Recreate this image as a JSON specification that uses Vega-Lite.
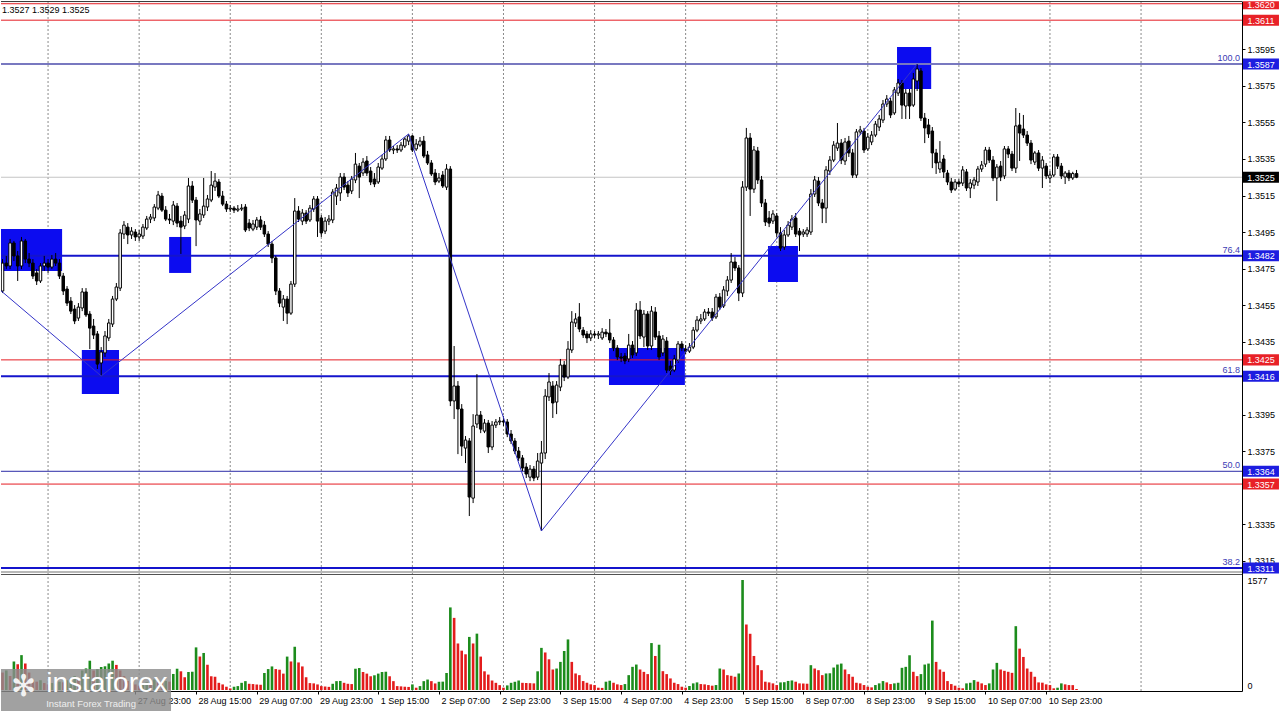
{
"$schema": "https://vega.github.io/schema/vega-lite/v6.json",
"width": 1241,
"height": 690,
"padding": 0,
"background": "#ffffff",
"config": {
 "view": {"stroke": null},
 "scale": {"continuousPadding": 0},
 "axis": {"labelFont": "Liberation Sans", "labelFontSize": 9, "labelColor": "#000000", "domainColor": "#000000", "tickColor": "#000000", "grid": false},
 "text": {"font": "Liberation Sans"}
},
"datasets": {
"bars": [
{"t":-51,"o":1.34627,"h":1.34802,"l":1.34616,"c":1.3478,"v":250,"vc":"r"},
{"t":-50,"o":1.3478,"h":1.34819,"l":1.34747,"c":1.34764,"v":280,"vc":"g"},
{"t":-49,"o":1.34764,"h":1.34912,"l":1.34747,"c":1.3489,"v":200,"vc":"r"},
{"t":-48,"o":1.3489,"h":1.34901,"l":1.34791,"c":1.34819,"v":410,"vc":"g"},
{"t":-47,"o":1.34819,"h":1.34846,"l":1.34682,"c":1.34764,"v":370,"vc":"r"},
{"t":-46,"o":1.34764,"h":1.34923,"l":1.34747,"c":1.34901,"v":500,"vc":"g"},
{"t":-45,"o":1.34901,"h":1.34912,"l":1.3478,"c":1.34802,"v":380,"vc":"r"},
{"t":-44,"o":1.34802,"h":1.34835,"l":1.34758,"c":1.3478,"v":250,"vc":"r"},
{"t":-43,"o":1.3478,"h":1.34802,"l":1.34693,"c":1.34709,"v":150,"vc":"r"},
{"t":-42,"o":1.34726,"h":1.34747,"l":1.3466,"c":1.34682,"v":120,"vc":"r"},
{"t":-41,"o":1.34682,"h":1.3478,"l":1.34671,"c":1.34764,"v":140,"vc":"g"},
{"t":-40,"o":1.34764,"h":1.34819,"l":1.34737,"c":1.3478,"v":100,"vc":"r"},
{"t":-39,"o":1.3478,"h":1.34802,"l":1.34726,"c":1.34758,"v":80,"vc":"r"},
{"t":-38,"o":1.34758,"h":1.34824,"l":1.34747,"c":1.34802,"v":100,"vc":"g"},
{"t":-37,"o":1.34802,"h":1.34835,"l":1.34764,"c":1.3478,"v":90,"vc":"r"},
{"t":-36,"o":1.3478,"h":1.34802,"l":1.34693,"c":1.34709,"v":120,"vc":"g"},
{"t":-35,"o":1.34709,"h":1.34726,"l":1.34605,"c":1.34627,"v":110,"vc":"r"},
{"t":-34,"o":1.34638,"h":1.34654,"l":1.34545,"c":1.34561,"v":140,"vc":"g"},
{"t":-33,"o":1.34572,"h":1.34594,"l":1.34501,"c":1.34517,"v":170,"vc":"g"},
{"t":-32,"o":1.34528,"h":1.3455,"l":1.34446,"c":1.34463,"v":200,"vc":"g"},
{"t":-31,"o":1.34479,"h":1.34561,"l":1.34463,"c":1.34539,"v":150,"vc":"r"},
{"t":-30,"o":1.34534,"h":1.34643,"l":1.34517,"c":1.34622,"v":280,"vc":"g"},
{"t":-29,"o":1.34622,"h":1.34643,"l":1.34485,"c":1.34496,"v":310,"vc":"g"},
{"t":-28,"o":1.34501,"h":1.34517,"l":1.34309,"c":1.34424,"v":420,"vc":"g"},
{"t":-27,"o":1.34435,"h":1.34474,"l":1.34364,"c":1.34386,"v":280,"vc":"r"},
{"t":-26,"o":1.34392,"h":1.34408,"l":1.342,"c":1.34227,"v":300,"vc":"g"},
{"t":-25,"o":1.34233,"h":1.3432,"l":1.34162,"c":1.34293,"v":330,"vc":"g"},
{"t":-24,"o":1.34288,"h":1.34408,"l":1.34266,"c":1.34381,"v":340,"vc":"g"},
{"t":-23,"o":1.3437,"h":1.34474,"l":1.34353,"c":1.34452,"v":380,"vc":"g"},
{"t":-22,"o":1.34446,"h":1.346,"l":1.3443,"c":1.34583,"v":420,"vc":"g"},
{"t":-21,"o":1.34583,"h":1.34671,"l":1.34572,"c":1.34649,"v":360,"vc":"r"},
{"t":-20,"o":1.34643,"h":1.34966,"l":1.34627,"c":1.34945,"v":280,"vc":"r"},
{"t":-19,"o":1.34939,"h":1.3501,"l":1.34912,"c":1.34988,"v":200,"vc":"r"},
{"t":-18,"o":1.34977,"h":1.34999,"l":1.34884,"c":1.34934,"v":130,"vc":"r"},
{"t":-17,"o":1.34934,"h":1.34977,"l":1.34912,"c":1.34955,"v":100,"vc":"r"},
{"t":-16,"o":1.3495,"h":1.34966,"l":1.34901,"c":1.34923,"v":80,"vc":"r"},
{"t":-15,"o":1.34923,"h":1.34961,"l":1.34901,"c":1.34939,"v":60,"vc":"r"},
{"t":-14,"o":1.34928,"h":1.34994,"l":1.34912,"c":1.34977,"v":90,"vc":"g"},
{"t":-13,"o":1.34972,"h":1.35038,"l":1.34961,"c":1.35021,"v":110,"vc":"g"},
{"t":-12,"o":1.35021,"h":1.35049,"l":1.34999,"c":1.35032,"v":100,"vc":"r"},
{"t":-11,"o":1.35027,"h":1.35103,"l":1.3501,"c":1.35087,"v":150,"vc":"g"},
{"t":-10,"o":1.35081,"h":1.35175,"l":1.3507,"c":1.35153,"v":120,"vc":"r"},
{"t":-9,"o":1.35147,"h":1.35164,"l":1.3506,"c":1.3507,"v":110,"vc":"r"},
{"t":-8,"o":1.3507,"h":1.35092,"l":1.3501,"c":1.35021,"v":130,"vc":"g"},
{"t":-7,"o":1.35021,"h":1.35049,"l":1.34994,"c":1.35016,"v":120,"vc":"r"},
{"t":-6,"o":1.3501,"h":1.3512,"l":1.34988,"c":1.35098,"v":230,"vc":"g"},
{"t":-5,"o":1.35092,"h":1.35109,"l":1.34977,"c":1.34999,"v":305,"vc":"g"},
{"t":-4,"o":1.3501,"h":1.35038,"l":1.3483,"c":1.34977,"v":268,"vc":"r"},
{"t":-3,"o":1.34983,"h":1.35065,"l":1.34966,"c":1.35043,"v":183,"vc":"r"},
{"t":-2,"o":1.35021,"h":1.35246,"l":1.34999,"c":1.35202,"v":258,"vc":"g"},
{"t":-1,"o":1.35202,"h":1.35229,"l":1.35109,"c":1.35125,"v":262,"vc":"g"},
{"t":0,"o":1.35125,"h":1.35142,"l":1.34873,"c":1.35016,"v":611,"vc":"g"},
{"t":1,"o":1.3501,"h":1.35076,"l":1.34988,"c":1.35049,"v":480,"vc":"r"},
{"t":2,"o":1.35043,"h":1.35246,"l":1.35027,"c":1.35092,"v":531,"vc":"g"},
{"t":3,"o":1.35087,"h":1.35153,"l":1.35065,"c":1.35131,"v":362,"vc":"r"},
{"t":4,"o":1.35125,"h":1.35284,"l":1.35114,"c":1.35207,"v":197,"vc":"r"},
{"t":5,"o":1.35196,"h":1.35273,"l":1.35175,"c":1.35229,"v":190,"vc":"r"},
{"t":6,"o":1.35224,"h":1.3524,"l":1.35136,"c":1.35147,"v":103,"vc":"r"},
{"t":7,"o":1.35147,"h":1.35175,"l":1.35092,"c":1.35103,"v":80,"vc":"r"},
{"t":8,"o":1.35103,"h":1.3512,"l":1.3506,"c":1.35076,"v":47,"vc":"r"},
{"t":9,"o":1.35076,"h":1.35098,"l":1.3506,"c":1.35081,"v":23,"vc":"r"},
{"t":10,"o":1.35081,"h":1.35092,"l":1.35054,"c":1.3507,"v":47,"vc":"g"},
{"t":11,"o":1.3507,"h":1.35098,"l":1.3506,"c":1.35076,"v":56,"vc":"g"},
{"t":12,"o":1.35076,"h":1.35103,"l":1.35065,"c":1.35081,"v":103,"vc":"g"},
{"t":13,"o":1.35087,"h":1.35103,"l":1.3495,"c":1.34961,"v":127,"vc":"g"},
{"t":14,"o":1.34999,"h":1.35021,"l":1.34955,"c":1.34972,"v":89,"vc":"r"},
{"t":15,"o":1.34966,"h":1.35016,"l":1.34955,"c":1.34994,"v":85,"vc":"r"},
{"t":16,"o":1.34977,"h":1.35032,"l":1.34961,"c":1.35016,"v":80,"vc":"r"},
{"t":17,"o":1.35016,"h":1.35038,"l":1.34961,"c":1.34977,"v":75,"vc":"r"},
{"t":18,"o":1.34988,"h":1.3501,"l":1.34923,"c":1.34939,"v":244,"vc":"g"},
{"t":19,"o":1.34939,"h":1.34955,"l":1.34868,"c":1.34884,"v":300,"vc":"g"},
{"t":20,"o":1.34884,"h":1.34901,"l":1.3478,"c":1.34808,"v":338,"vc":"g"},
{"t":21,"o":1.34808,"h":1.34819,"l":1.34605,"c":1.34627,"v":300,"vc":"r"},
{"t":22,"o":1.34627,"h":1.34643,"l":1.34539,"c":1.34561,"v":291,"vc":"r"},
{"t":23,"o":1.34539,"h":1.34605,"l":1.34463,"c":1.34583,"v":235,"vc":"r"},
{"t":24,"o":1.34583,"h":1.346,"l":1.34446,"c":1.34506,"v":479,"vc":"g"},
{"t":25,"o":1.34506,"h":1.34682,"l":1.34496,"c":1.34665,"v":409,"vc":"r"},
{"t":26,"o":1.34665,"h":1.35136,"l":1.34649,"c":1.35065,"v":620,"vc":"g"},
{"t":27,"o":1.35065,"h":1.35092,"l":1.35005,"c":1.35021,"v":395,"vc":"r"},
{"t":28,"o":1.3501,"h":1.35076,"l":1.34988,"c":1.35054,"v":338,"vc":"r"},
{"t":29,"o":1.35054,"h":1.3507,"l":1.34994,"c":1.3501,"v":183,"vc":"r"},
{"t":30,"o":1.35016,"h":1.35098,"l":1.35005,"c":1.35081,"v":99,"vc":"r"},
{"t":31,"o":1.35076,"h":1.35147,"l":1.3506,"c":1.35131,"v":95,"vc":"r"},
{"t":32,"o":1.35131,"h":1.35147,"l":1.34923,"c":1.3501,"v":80,"vc":"r"},
{"t":33,"o":1.35027,"h":1.35043,"l":1.34923,"c":1.34945,"v":56,"vc":"r"},
{"t":34,"o":1.34955,"h":1.35032,"l":1.34939,"c":1.3501,"v":50,"vc":"r"},
{"t":35,"o":1.3501,"h":1.35043,"l":1.34988,"c":1.35021,"v":45,"vc":"r"},
{"t":36,"o":1.35016,"h":1.35185,"l":1.34999,"c":1.35169,"v":89,"vc":"g"},
{"t":37,"o":1.35147,"h":1.35213,"l":1.35098,"c":1.35191,"v":127,"vc":"g"},
{"t":38,"o":1.35164,"h":1.35273,"l":1.3512,"c":1.35251,"v":130,"vc":"g"},
{"t":39,"o":1.35251,"h":1.35273,"l":1.3518,"c":1.35196,"v":103,"vc":"r"},
{"t":40,"o":1.35207,"h":1.35229,"l":1.35142,"c":1.35164,"v":89,"vc":"r"},
{"t":41,"o":1.35175,"h":1.35257,"l":1.35158,"c":1.3524,"v":85,"vc":"r"},
{"t":42,"o":1.35235,"h":1.35383,"l":1.35218,"c":1.35322,"v":305,"vc":"g"},
{"t":43,"o":1.35311,"h":1.35328,"l":1.35136,"c":1.35251,"v":315,"vc":"g"},
{"t":44,"o":1.35273,"h":1.35355,"l":1.35257,"c":1.35333,"v":258,"vc":"r"},
{"t":45,"o":1.35339,"h":1.35366,"l":1.35257,"c":1.35273,"v":235,"vc":"r"},
{"t":46,"o":1.35284,"h":1.35306,"l":1.35207,"c":1.35224,"v":197,"vc":"r"},
{"t":47,"o":1.3524,"h":1.35273,"l":1.35196,"c":1.35213,"v":211,"vc":"g"},
{"t":48,"o":1.35224,"h":1.35328,"l":1.35213,"c":1.35306,"v":235,"vc":"g"},
{"t":49,"o":1.353,"h":1.35372,"l":1.3529,"c":1.3535,"v":258,"vc":"g"},
{"t":50,"o":1.3535,"h":1.35476,"l":1.35339,"c":1.35454,"v":262,"vc":"g"},
{"t":51,"o":1.35454,"h":1.35476,"l":1.35388,"c":1.35399,"v":197,"vc":"r"},
{"t":52,"o":1.35399,"h":1.35421,"l":1.35377,"c":1.35405,"v":127,"vc":"r"},
{"t":53,"o":1.35405,"h":1.35426,"l":1.35383,"c":1.35399,"v":56,"vc":"r"},
{"t":54,"o":1.35399,"h":1.35443,"l":1.35388,"c":1.35426,"v":52,"vc":"r"},
{"t":55,"o":1.35421,"h":1.3547,"l":1.3541,"c":1.35459,"v":47,"vc":"r"},
{"t":56,"o":1.35448,"h":1.35487,"l":1.35426,"c":1.35476,"v":44,"vc":"r"},
{"t":57,"o":1.35476,"h":1.35481,"l":1.35388,"c":1.35399,"v":80,"vc":"g"},
{"t":58,"o":1.35405,"h":1.35459,"l":1.35394,"c":1.35432,"v":33,"vc":"r"},
{"t":59,"o":1.35426,"h":1.3547,"l":1.35416,"c":1.35448,"v":56,"vc":"g"},
{"t":60,"o":1.35448,"h":1.35476,"l":1.35355,"c":1.35366,"v":127,"vc":"g"},
{"t":61,"o":1.35372,"h":1.35394,"l":1.35317,"c":1.35328,"v":150,"vc":"g"},
{"t":62,"o":1.35328,"h":1.35344,"l":1.35257,"c":1.35268,"v":127,"vc":"r"},
{"t":63,"o":1.35273,"h":1.35295,"l":1.35207,"c":1.35224,"v":94,"vc":"r"},
{"t":64,"o":1.35229,"h":1.35273,"l":1.35218,"c":1.35246,"v":118,"vc":"g"},
{"t":65,"o":1.35262,"h":1.35284,"l":1.35191,"c":1.35202,"v":120,"vc":"g"},
{"t":66,"o":1.35196,"h":1.35322,"l":1.3518,"c":1.35295,"v":244,"vc":"g"},
{"t":67,"o":1.35295,"h":1.35311,"l":1.33997,"c":1.34025,"v":1184,"vc":"g"},
{"t":68,"o":1.34025,"h":1.34326,"l":1.33926,"c":1.34107,"v":1034,"vc":"r"},
{"t":69,"o":1.34107,"h":1.34134,"l":1.33734,"c":1.33981,"v":667,"vc":"r"},
{"t":70,"o":1.33981,"h":1.34008,"l":1.33724,"c":1.33778,"v":564,"vc":"r"},
{"t":71,"o":1.33767,"h":1.33833,"l":1.33685,"c":1.33811,"v":512,"vc":"r"},
{"t":72,"o":1.33806,"h":1.33822,"l":1.33395,"c":1.33499,"v":761,"vc":"g"},
{"t":73,"o":1.33493,"h":1.33953,"l":1.33466,"c":1.33888,"v":667,"vc":"r"},
{"t":74,"o":1.33899,"h":1.34172,"l":1.33877,"c":1.33948,"v":808,"vc":"g"},
{"t":75,"o":1.33948,"h":1.3397,"l":1.33849,"c":1.33871,"v":479,"vc":"r"},
{"t":76,"o":1.3386,"h":1.33926,"l":1.33849,"c":1.33904,"v":268,"vc":"r"},
{"t":77,"o":1.33904,"h":1.33921,"l":1.3374,"c":1.33773,"v":221,"vc":"r"},
{"t":78,"o":1.33773,"h":1.33915,"l":1.33756,"c":1.33893,"v":136,"vc":"r"},
{"t":79,"o":1.33893,"h":1.33926,"l":1.33877,"c":1.3391,"v":103,"vc":"r"},
{"t":80,"o":1.3391,"h":1.33937,"l":1.33893,"c":1.33915,"v":70,"vc":"r"},
{"t":81,"o":1.33915,"h":1.33942,"l":1.33888,"c":1.3391,"v":33,"vc":"r"},
{"t":82,"o":1.3391,"h":1.33926,"l":1.33827,"c":1.33844,"v":66,"vc":"g"},
{"t":83,"o":1.33844,"h":1.33866,"l":1.33789,"c":1.33806,"v":103,"vc":"g"},
{"t":84,"o":1.33806,"h":1.33822,"l":1.33734,"c":1.33751,"v":118,"vc":"g"},
{"t":85,"o":1.33751,"h":1.33773,"l":1.33696,"c":1.33713,"v":136,"vc":"g"},
{"t":86,"o":1.33713,"h":1.33729,"l":1.33641,"c":1.33658,"v":103,"vc":"r"},
{"t":87,"o":1.33663,"h":1.33685,"l":1.33603,"c":1.33625,"v":100,"vc":"r"},
{"t":88,"o":1.33608,"h":1.33674,"l":1.33586,"c":1.33652,"v":98,"vc":"r"},
{"t":89,"o":1.33652,"h":1.33669,"l":1.33586,"c":1.33603,"v":95,"vc":"r"},
{"t":90,"o":1.33608,"h":1.3374,"l":1.33592,"c":1.33696,"v":268,"vc":"g"},
{"t":91,"o":1.33685,"h":1.33806,"l":1.33313,"c":1.3374,"v":604,"vc":"g"},
{"t":92,"o":1.3374,"h":1.3409,"l":1.33707,"c":1.34052,"v":538,"vc":"r"},
{"t":93,"o":1.34047,"h":1.34178,"l":1.34025,"c":1.34129,"v":440,"vc":"r"},
{"t":94,"o":1.34107,"h":1.34134,"l":1.33932,"c":1.34014,"v":294,"vc":"r"},
{"t":95,"o":1.34019,"h":1.34134,"l":1.33953,"c":1.34112,"v":308,"vc":"g"},
{"t":96,"o":1.34101,"h":1.34255,"l":1.34079,"c":1.34222,"v":403,"vc":"g"},
{"t":97,"o":1.34222,"h":1.34244,"l":1.34134,"c":1.34156,"v":559,"vc":"g"},
{"t":98,"o":1.34156,"h":1.34353,"l":1.34145,"c":1.34309,"v":725,"vc":"g"},
{"t":99,"o":1.34304,"h":1.34517,"l":1.34288,"c":1.34457,"v":403,"vc":"r"},
{"t":100,"o":1.34452,"h":1.34506,"l":1.3443,"c":1.34474,"v":237,"vc":"r"},
{"t":101,"o":1.34485,"h":1.34561,"l":1.34402,"c":1.34419,"v":213,"vc":"r"},
{"t":102,"o":1.34413,"h":1.3443,"l":1.3437,"c":1.34386,"v":128,"vc":"r"},
{"t":103,"o":1.34392,"h":1.34408,"l":1.34342,"c":1.3437,"v":104,"vc":"r"},
{"t":104,"o":1.3437,"h":1.34413,"l":1.34353,"c":1.34392,"v":81,"vc":"r"},
{"t":105,"o":1.34392,"h":1.34408,"l":1.3437,"c":1.34386,"v":71,"vc":"r"},
{"t":106,"o":1.34386,"h":1.34408,"l":1.34364,"c":1.34392,"v":33,"vc":"r"},
{"t":107,"o":1.3437,"h":1.34424,"l":1.34359,"c":1.34402,"v":30,"vc":"r"},
{"t":108,"o":1.34402,"h":1.34419,"l":1.34375,"c":1.34392,"v":119,"vc":"g"},
{"t":109,"o":1.34397,"h":1.34474,"l":1.34342,"c":1.34359,"v":133,"vc":"g"},
{"t":110,"o":1.34359,"h":1.34375,"l":1.34298,"c":1.34315,"v":104,"vc":"r"},
{"t":111,"o":1.34315,"h":1.34331,"l":1.34249,"c":1.34266,"v":81,"vc":"r"},
{"t":112,"o":1.34266,"h":1.34288,"l":1.34238,"c":1.3426,"v":71,"vc":"r"},
{"t":113,"o":1.34271,"h":1.34288,"l":1.34227,"c":1.34244,"v":85,"vc":"g"},
{"t":114,"o":1.34255,"h":1.34392,"l":1.34238,"c":1.34331,"v":213,"vc":"g"},
{"t":115,"o":1.34331,"h":1.34353,"l":1.3426,"c":1.34277,"v":332,"vc":"g"},
{"t":116,"o":1.34288,"h":1.34561,"l":1.34271,"c":1.34523,"v":365,"vc":"g"},
{"t":117,"o":1.34523,"h":1.34572,"l":1.34364,"c":1.34381,"v":294,"vc":"r"},
{"t":118,"o":1.34375,"h":1.34523,"l":1.3432,"c":1.34501,"v":260,"vc":"r"},
{"t":119,"o":1.34501,"h":1.34517,"l":1.34304,"c":1.34326,"v":228,"vc":"r"},
{"t":120,"o":1.34326,"h":1.34545,"l":1.34304,"c":1.34517,"v":673,"vc":"g"},
{"t":121,"o":1.34512,"h":1.34539,"l":1.34359,"c":1.34375,"v":488,"vc":"r"},
{"t":122,"o":1.34381,"h":1.34408,"l":1.34249,"c":1.34266,"v":649,"vc":"g"},
{"t":123,"o":1.34288,"h":1.34386,"l":1.34271,"c":1.34364,"v":270,"vc":"r"},
{"t":124,"o":1.34353,"h":1.34375,"l":1.34178,"c":1.34194,"v":228,"vc":"r"},
{"t":125,"o":1.34216,"h":1.34244,"l":1.34167,"c":1.34189,"v":166,"vc":"r"},
{"t":126,"o":1.34194,"h":1.34277,"l":1.34183,"c":1.34255,"v":104,"vc":"r"},
{"t":127,"o":1.34249,"h":1.34353,"l":1.34233,"c":1.34337,"v":85,"vc":"r"},
{"t":128,"o":1.34337,"h":1.34353,"l":1.34298,"c":1.34315,"v":47,"vc":"r"},
{"t":129,"o":1.34309,"h":1.34331,"l":1.34282,"c":1.34298,"v":33,"vc":"r"},
{"t":130,"o":1.34298,"h":1.34342,"l":1.34288,"c":1.3432,"v":57,"vc":"g"},
{"t":131,"o":1.3432,"h":1.3443,"l":1.34309,"c":1.34413,"v":95,"vc":"g"},
{"t":132,"o":1.34413,"h":1.3449,"l":1.34402,"c":1.34468,"v":109,"vc":"g"},
{"t":133,"o":1.34463,"h":1.34501,"l":1.34446,"c":1.34474,"v":85,"vc":"r"},
{"t":134,"o":1.34474,"h":1.34528,"l":1.34463,"c":1.34512,"v":81,"vc":"r"},
{"t":135,"o":1.34512,"h":1.34534,"l":1.3449,"c":1.34506,"v":71,"vc":"r"},
{"t":136,"o":1.34512,"h":1.34534,"l":1.34463,"c":1.34479,"v":62,"vc":"r"},
{"t":137,"o":1.34485,"h":1.34611,"l":1.34474,"c":1.34594,"v":71,"vc":"g"},
{"t":138,"o":1.34594,"h":1.34616,"l":1.34523,"c":1.34539,"v":308,"vc":"g"},
{"t":139,"o":1.34545,"h":1.34654,"l":1.34534,"c":1.34633,"v":294,"vc":"r"},
{"t":140,"o":1.34627,"h":1.34709,"l":1.346,"c":1.34687,"v":213,"vc":"r"},
{"t":141,"o":1.34687,"h":1.34835,"l":1.34671,"c":1.34786,"v":204,"vc":"r"},
{"t":142,"o":1.34786,"h":1.34813,"l":1.34737,"c":1.34753,"v":190,"vc":"r"},
{"t":143,"o":1.34753,"h":1.34769,"l":1.34572,"c":1.34616,"v":237,"vc":"g"},
{"t":144,"o":1.34616,"h":1.35229,"l":1.34594,"c":1.35196,"v":1577,"vc":"g"},
{"t":145,"o":1.35196,"h":1.3552,"l":1.35175,"c":1.35465,"v":939,"vc":"r"},
{"t":146,"o":1.35465,"h":1.35492,"l":1.35038,"c":1.35185,"v":806,"vc":"r"},
{"t":147,"o":1.35185,"h":1.35421,"l":1.35164,"c":1.35399,"v":488,"vc":"r"},
{"t":148,"o":1.35394,"h":1.35416,"l":1.35213,"c":1.35235,"v":356,"vc":"r"},
{"t":149,"o":1.35235,"h":1.35257,"l":1.35087,"c":1.35109,"v":284,"vc":"r"},
{"t":150,"o":1.35109,"h":1.35131,"l":1.34983,"c":1.35005,"v":119,"vc":"r"},
{"t":151,"o":1.35027,"h":1.35065,"l":1.34977,"c":1.34999,"v":109,"vc":"r"},
{"t":152,"o":1.3501,"h":1.3507,"l":1.34994,"c":1.35049,"v":95,"vc":"r"},
{"t":153,"o":1.35038,"h":1.35054,"l":1.34923,"c":1.34945,"v":71,"vc":"r"},
{"t":154,"o":1.34945,"h":1.34977,"l":1.34846,"c":1.34862,"v":109,"vc":"g"},
{"t":155,"o":1.34868,"h":1.34961,"l":1.34852,"c":1.34934,"v":112,"vc":"g"},
{"t":156,"o":1.34934,"h":1.3501,"l":1.34923,"c":1.34988,"v":130,"vc":"g"},
{"t":157,"o":1.34977,"h":1.35043,"l":1.34961,"c":1.35021,"v":137,"vc":"g"},
{"t":158,"o":1.35027,"h":1.35054,"l":1.34923,"c":1.34939,"v":119,"vc":"r"},
{"t":159,"o":1.34955,"h":1.34972,"l":1.34846,"c":1.34934,"v":95,"vc":"r"},
{"t":160,"o":1.34939,"h":1.34966,"l":1.34923,"c":1.3495,"v":93,"vc":"r"},
{"t":161,"o":1.34939,"h":1.34977,"l":1.34923,"c":1.34961,"v":90,"vc":"r"},
{"t":162,"o":1.3495,"h":1.35185,"l":1.34934,"c":1.35158,"v":356,"vc":"g"},
{"t":163,"o":1.35158,"h":1.35257,"l":1.35142,"c":1.35235,"v":308,"vc":"r"},
{"t":164,"o":1.35229,"h":1.35251,"l":1.35092,"c":1.35109,"v":284,"vc":"r"},
{"t":165,"o":1.35109,"h":1.35131,"l":1.34999,"c":1.35081,"v":213,"vc":"r"},
{"t":166,"o":1.35081,"h":1.35311,"l":1.34999,"c":1.3529,"v":237,"vc":"g"},
{"t":167,"o":1.35284,"h":1.35366,"l":1.35262,"c":1.35344,"v":240,"vc":"g"},
{"t":168,"o":1.35344,"h":1.35448,"l":1.35333,"c":1.35426,"v":322,"vc":"g"},
{"t":169,"o":1.3541,"h":1.35547,"l":1.35394,"c":1.35437,"v":365,"vc":"g"},
{"t":170,"o":1.35437,"h":1.35459,"l":1.35322,"c":1.35344,"v":379,"vc":"g"},
{"t":171,"o":1.35339,"h":1.35465,"l":1.35317,"c":1.35443,"v":294,"vc":"r"},
{"t":172,"o":1.35448,"h":1.35476,"l":1.35361,"c":1.35383,"v":228,"vc":"r"},
{"t":173,"o":1.35383,"h":1.35405,"l":1.35246,"c":1.35262,"v":190,"vc":"r"},
{"t":174,"o":1.35262,"h":1.35514,"l":1.35246,"c":1.35498,"v":104,"vc":"r"},
{"t":175,"o":1.35498,"h":1.35531,"l":1.35481,"c":1.35509,"v":95,"vc":"r"},
{"t":176,"o":1.35503,"h":1.3552,"l":1.35383,"c":1.35399,"v":71,"vc":"r"},
{"t":177,"o":1.35405,"h":1.35492,"l":1.35394,"c":1.3547,"v":47,"vc":"r"},
{"t":178,"o":1.35443,"h":1.35503,"l":1.35426,"c":1.35481,"v":38,"vc":"r"},
{"t":179,"o":1.35481,"h":1.35558,"l":1.3547,"c":1.35541,"v":71,"vc":"g"},
{"t":180,"o":1.35525,"h":1.35591,"l":1.35503,"c":1.35569,"v":95,"vc":"g"},
{"t":181,"o":1.35563,"h":1.35673,"l":1.35547,"c":1.35651,"v":128,"vc":"g"},
{"t":182,"o":1.35651,"h":1.357,"l":1.35635,"c":1.35678,"v":109,"vc":"r"},
{"t":183,"o":1.35667,"h":1.35684,"l":1.35574,"c":1.35591,"v":85,"vc":"r"},
{"t":184,"o":1.35602,"h":1.35744,"l":1.35591,"c":1.35728,"v":95,"vc":"g"},
{"t":185,"o":1.35711,"h":1.35788,"l":1.35695,"c":1.35766,"v":104,"vc":"g"},
{"t":186,"o":1.35766,"h":1.35782,"l":1.35569,"c":1.35645,"v":318,"vc":"g"},
{"t":187,"o":1.3564,"h":1.35733,"l":1.35569,"c":1.35711,"v":332,"vc":"g"},
{"t":188,"o":1.35711,"h":1.35733,"l":1.35569,"c":1.3564,"v":498,"vc":"g"},
{"t":189,"o":1.35645,"h":1.35821,"l":1.35635,"c":1.35788,"v":261,"vc":"r"},
{"t":190,"o":1.35777,"h":1.3587,"l":1.35722,"c":1.35843,"v":199,"vc":"r"},
{"t":191,"o":1.35832,"h":1.35848,"l":1.35558,"c":1.35574,"v":228,"vc":"g"},
{"t":192,"o":1.35574,"h":1.35602,"l":1.35437,"c":1.3552,"v":365,"vc":"g"},
{"t":193,"o":1.35536,"h":1.35569,"l":1.35465,"c":1.35487,"v":379,"vc":"g"},
{"t":194,"o":1.35503,"h":1.35525,"l":1.353,"c":1.35383,"v":995,"vc":"g"},
{"t":195,"o":1.35383,"h":1.35405,"l":1.35268,"c":1.35328,"v":403,"vc":"r"},
{"t":196,"o":1.35295,"h":1.35448,"l":1.35273,"c":1.35333,"v":294,"vc":"r"},
{"t":197,"o":1.3535,"h":1.35372,"l":1.35246,"c":1.35279,"v":261,"vc":"r"},
{"t":198,"o":1.35273,"h":1.3529,"l":1.35207,"c":1.35224,"v":128,"vc":"r"},
{"t":199,"o":1.35224,"h":1.35246,"l":1.35164,"c":1.3518,"v":85,"vc":"r"},
{"t":200,"o":1.35185,"h":1.3524,"l":1.35175,"c":1.35224,"v":62,"vc":"r"},
{"t":201,"o":1.35224,"h":1.3524,"l":1.35196,"c":1.35213,"v":33,"vc":"r"},
{"t":202,"o":1.35218,"h":1.35311,"l":1.35202,"c":1.3529,"v":24,"vc":"r"},
{"t":203,"o":1.35279,"h":1.35295,"l":1.35175,"c":1.35191,"v":95,"vc":"g"},
{"t":204,"o":1.35191,"h":1.3524,"l":1.35136,"c":1.35218,"v":104,"vc":"g"},
{"t":205,"o":1.35207,"h":1.35251,"l":1.35185,"c":1.35235,"v":142,"vc":"g"},
{"t":206,"o":1.35224,"h":1.35311,"l":1.35202,"c":1.35295,"v":119,"vc":"r"},
{"t":207,"o":1.35295,"h":1.35339,"l":1.35279,"c":1.35317,"v":95,"vc":"r"},
{"t":208,"o":1.35322,"h":1.35416,"l":1.35306,"c":1.35399,"v":71,"vc":"r"},
{"t":209,"o":1.35399,"h":1.35416,"l":1.35328,"c":1.35344,"v":95,"vc":"g"},
{"t":210,"o":1.35344,"h":1.35366,"l":1.35229,"c":1.35246,"v":294,"vc":"g"},
{"t":211,"o":1.35246,"h":1.35322,"l":1.3512,"c":1.35306,"v":389,"vc":"g"},
{"t":212,"o":1.35311,"h":1.35339,"l":1.35229,"c":1.35251,"v":294,"vc":"r"},
{"t":213,"o":1.35257,"h":1.35421,"l":1.3524,"c":1.35405,"v":275,"vc":"r"},
{"t":214,"o":1.35405,"h":1.35421,"l":1.35355,"c":1.35377,"v":261,"vc":"r"},
{"t":215,"o":1.35377,"h":1.35394,"l":1.35284,"c":1.353,"v":246,"vc":"r"},
{"t":216,"o":1.353,"h":1.35629,"l":1.35273,"c":1.35531,"v":915,"vc":"g"},
{"t":217,"o":1.35536,"h":1.35602,"l":1.35339,"c":1.35492,"v":593,"vc":"r"},
{"t":218,"o":1.35514,"h":1.35591,"l":1.35465,"c":1.35481,"v":474,"vc":"r"},
{"t":219,"o":1.35481,"h":1.35503,"l":1.35421,"c":1.35437,"v":308,"vc":"r"},
{"t":220,"o":1.35437,"h":1.35454,"l":1.35322,"c":1.35344,"v":261,"vc":"r"},
{"t":221,"o":1.35333,"h":1.35394,"l":1.35317,"c":1.35383,"v":190,"vc":"r"},
{"t":222,"o":1.35383,"h":1.35399,"l":1.35284,"c":1.353,"v":109,"vc":"r"},
{"t":223,"o":1.353,"h":1.35366,"l":1.35191,"c":1.35344,"v":105,"vc":"r"},
{"t":224,"o":1.35311,"h":1.35328,"l":1.3524,"c":1.35257,"v":81,"vc":"r"},
{"t":225,"o":1.35246,"h":1.35284,"l":1.35218,"c":1.35262,"v":71,"vc":"r"},
{"t":226,"o":1.35262,"h":1.35377,"l":1.35251,"c":1.35361,"v":24,"vc":"r"},
{"t":227,"o":1.35361,"h":1.35377,"l":1.35295,"c":1.35311,"v":33,"vc":"g"},
{"t":228,"o":1.35311,"h":1.35328,"l":1.3524,"c":1.35257,"v":95,"vc":"g"},
{"t":229,"o":1.35251,"h":1.35284,"l":1.35213,"c":1.35273,"v":81,"vc":"r"},
{"t":230,"o":1.35273,"h":1.3529,"l":1.35229,"c":1.35246,"v":71,"vc":"r"},
{"t":231,"o":1.35246,"h":1.3528,"l":1.35235,"c":1.3527,"v":70,"vc":"r"},
{"t":232,"o":1.3527,"h":1.3529,"l":1.35245,"c":1.3525,"v":14,"vc":"r"}
],
"grid": [{"t":-39},{"t":-15},{"t":9},{"t":33},{"t":57},{"t":81},{"t":105},{"t":129},{"t":153},{"t":177},{"t":201},{"t":225},{"t":249}],
"levels": [
{"p":1.362,"k":"r"},{"p":1.3611,"k":"r"},{"p":1.3587,"k":"f100"},{"p":1.3525,"k":"cur"},{"p":1.3482,"k":"f"},
{"p":1.3425,"k":"r"},{"p":1.3416,"k":"f"},{"p":1.3364,"k":"f50"},{"p":1.3357,"k":"r"},{"p":1.3311,"k":"f"}
],
"fib": [{"p":1.3587,"f":"100.0"},{"p":1.3482,"f":"76.4"},{"p":1.3416,"f":"61.8"},{"p":1.3364,"f":"50.0"},{"p":1.3311,"f":"38.2"}],
"boxes": [
{"t":-51.4,"t2":-35.3,"p":1.34966,"p2":1.34737},
{"t":-30.1,"t2":-20.3,"p":1.34304,"p2":1.34063},
{"t":-7.1,"t2":-1.3,"p":1.34923,"p2":1.34726},
{"t":108.8,"t2":128.8,"p":1.34315,"p2":1.34112},
{"t":150.7,"t2":158.6,"p":1.34873,"p2":1.34676},
{"t":184.7,"t2":193.7,"p":1.35963,"p2":1.35733}
],
"zz": [{"t":-60,"p":1.3478},{"t":-25,"p":1.34162},{"t":56,"p":1.35487},{"t":91,"p":1.33313},{"t":190,"p":1.3587}]
},
"resolve": {"scale": {"y": "independent"}, "axis": {"y": "independent"}},
"layer": [
{"layer": [
 {"data": {"name": "grid"}, "mark": {"type": "rule", "stroke": "#8a8a8a", "strokeDash": [2, 2], "strokeWidth": 1},
  "encoding": {"x": {"field": "t", "type": "quantitative", "scale": {"domain": [-51.4, 275.6], "nice": false, "zero": false, "padding": 0},
    "axis": {"orient": "bottom", "values": [-16, 0, 16, 32, 48, 64, 80, 96, 112, 128, 144, 160, 176, 192, 208, 224],
     "labelExpr": "['26 Aug 15:00','27 Aug 07:00','27 Aug 23:00','28 Aug 15:00','29 Aug 07:00','29 Aug 23:00','1 Sep 15:00','2 Sep 07:00','2 Sep 23:00','3 Sep 15:00','4 Sep 07:00','4 Sep 23:00','5 Sep 15:00','8 Sep 07:00','8 Sep 23:00','9 Sep 15:00','10 Sep 07:00','10 Sep 23:00'][round((datum.value + 48) / 16)]",
     "labelAlign": "left", "labelBaseline": "top", "labelOffset": 2, "tickSize": 3, "labelPadding": 2, "labelOverlap": false, "labelFlush": false, "labelBound": false, "title": null}}}},
 {"data": {"name": "boxes"}, "mark": {"type": "rect", "fill": "#0c0cf0", "clip": true},
  "encoding": {"x": {"field": "t", "type": "quantitative", "scale": {"domain": [-51.4, 275.6], "nice": false, "zero": false, "padding": 0}}, "x2": {"field": "t2"},
   "y": {"field": "p", "type": "quantitative", "scale": {"domain": [1.32437, 1.36215], "nice": false, "zero": false, "padding": 0},
    "axis": {"orient": "right", "values": [1.3315, 1.3335, 1.3375, 1.3395, 1.3435, 1.3455, 1.3475, 1.3495, 1.3515, 1.3535, 1.3555, 1.3575, 1.3595], "format": ".4f", "tickSize": 3, "labelPadding": 2, "title": null, "labelOverlap": false, "labelBound": false}},
   "y2": {"field": "p2"}}},
 {"data": {"name": "levels"}, "transform": [{"filter": "datum.k != 'f' && datum.k != 'f100'"}], "mark": {"type": "rule", "strokeWidth": 1},
  "encoding": {"y": {"field": "p", "type": "quantitative", "scale": {"domain": [1.32437, 1.36215], "nice": false, "zero": false, "padding": 0}},
   "stroke": {"field": "k", "type": "nominal", "scale": {"domain": ["r", "f100", "f", "f50", "cur"], "range": ["#e51c23", "#7878c0", "#1414cc", "#2b2ba6", "#c4c4c4"]}, "legend": null}}},
 {"data": {"name": "levels"}, "transform": [{"filter": "datum.k == 'f' || datum.k == 'f100'"}], "mark": {"type": "rule", "strokeWidth": 2},
  "encoding": {"y": {"field": "p", "type": "quantitative", "scale": {"domain": [1.32437, 1.36215], "nice": false, "zero": false, "padding": 0}},
   "stroke": {"field": "k", "type": "nominal", "scale": {"domain": ["r", "f100", "f", "f50", "cur"], "range": ["#e51c23", "#7878c0", "#1414cc", "#2b2ba6", "#c4c4c4"]}, "legend": null}}},
 {"data": {"values": [{}]}, "mark": {"type": "rule", "stroke": "#333333", "strokeWidth": 1},
  "encoding": {"y": {"datum": 1.36212, "type": "quantitative", "scale": {"domain": [1.32437, 1.36215], "nice": false, "zero": false, "padding": 0}}}},
 {"data": {"name": "bars"}, "mark": {"type": "rule", "stroke": "#000000", "strokeWidth": 1, "clip": true},
  "encoding": {"x": {"field": "t", "type": "quantitative", "scale": {"domain": [-51.4, 275.6], "nice": false, "zero": false, "padding": 0}},
   "y": {"field": "l", "type": "quantitative", "scale": {"domain": [1.32437, 1.36215], "nice": false, "zero": false, "padding": 0}},
   "y2": {"field": "h"}}},
 {"data": {"name": "bars"}, "mark": {"type": "bar", "orient": "vertical", "width": 2.5, "stroke": "#000000", "strokeWidth": 1, "clip": true},
  "encoding": {"x": {"field": "t", "type": "quantitative", "scale": {"domain": [-51.4, 275.6], "nice": false, "zero": false, "padding": 0}},
   "y": {"field": "o", "type": "quantitative", "scale": {"domain": [1.32437, 1.36215], "nice": false, "zero": false, "padding": 0}},
   "y2": {"field": "c"},
   "fill": {"condition": {"test": "datum.c >= datum.o", "value": "#ffffff"}, "value": "#000000"}}},
 {"data": {"name": "zz"}, "mark": {"type": "line", "stroke": "#3434c8", "strokeWidth": 1, "clip": true},
  "encoding": {"x": {"field": "t", "type": "quantitative", "scale": {"domain": [-51.4, 275.6], "nice": false, "zero": false, "padding": 0}},
   "y": {"field": "p", "type": "quantitative", "scale": {"domain": [1.32437, 1.36215], "nice": false, "zero": false, "padding": 0}}}},
 {"data": {"name": "fib"}, "mark": {"type": "text", "align": "right", "baseline": "bottom", "dy": -1, "fontSize": 9, "fill": "#3c3cb4"},
  "encoding": {"x": {"datum": 275.1, "type": "quantitative", "scale": {"domain": [-51.4, 275.6], "nice": false, "zero": false, "padding": 0}},
   "y": {"field": "p", "type": "quantitative", "scale": {"domain": [1.32437, 1.36215], "nice": false, "zero": false, "padding": 0}},
   "text": {"field": "f"}}},
 {"data": {"name": "levels"}, "transform": [{"filter": "datum.p < 1.3619"}],
  "mark": {"type": "point", "shape": "M-1,-0.306L1,-0.306L1,0.306L-1,0.306Z", "size": 1296, "filled": true, "opacity": 1, "strokeWidth": 0},
  "encoding": {"x": {"datum": 280.6, "type": "quantitative", "scale": {"domain": [-51.4, 275.6], "nice": false, "zero": false, "padding": 0}},
   "y": {"field": "p", "type": "quantitative", "scale": {"domain": [1.32437, 1.36215], "nice": false, "zero": false, "padding": 0}},
   "fill": {"field": "k", "type": "nominal", "scale": {"domain": ["r", "f100", "f", "f50", "cur"], "range": ["#e82127", "#1d1de0", "#1d1de0", "#1d1de0", "#000000"]}, "legend": null}}},
 {"data": {"name": "levels"}, "transform": [{"filter": "datum.p < 1.3619"}],
  "mark": {"type": "text", "align": "center", "baseline": "middle", "fontSize": 9, "fill": "#ffffff", "dy": 0.5},
  "encoding": {"x": {"datum": 280.6, "type": "quantitative", "scale": {"domain": [-51.4, 275.6], "nice": false, "zero": false, "padding": 0}},
   "y": {"field": "p", "type": "quantitative", "scale": {"domain": [1.32437, 1.36215], "nice": false, "zero": false, "padding": 0}},
   "text": {"field": "p", "type": "quantitative", "format": ".4f"}}},
 {"data": {"values": [{}]},
  "mark": {"type": "point", "shape": "M-1,-0.14L1,-0.14L1,0.306L-1,0.306Z", "size": 1296, "filled": true, "opacity": 1, "strokeWidth": 0, "fill": "#e82127"},
  "encoding": {"x": {"datum": 280.6, "type": "quantitative", "scale": {"domain": [-51.4, 275.6], "nice": false, "zero": false, "padding": 0}},
   "y": {"datum": 1.362, "type": "quantitative", "scale": {"domain": [1.32437, 1.36215], "nice": false, "zero": false, "padding": 0}}}},
 {"data": {"values": [{}]},
  "mark": {"type": "text", "align": "center", "baseline": "top", "dy": -2.4, "fontSize": 9, "fill": "#ffffff", "text": "1.3620"},
  "encoding": {"x": {"datum": 280.6, "type": "quantitative", "scale": {"domain": [-51.4, 275.6], "nice": false, "zero": false, "padding": 0}},
   "y": {"datum": 1.362, "type": "quantitative", "scale": {"domain": [1.32437, 1.36215], "nice": false, "zero": false, "padding": 0}}}},
 {"data": {"values": [{}]},
  "mark": {"type": "text", "align": "left", "baseline": "middle", "dx": 1, "fontSize": 9, "fill": "#000000", "text": "1.3527 1.3529 1.3525"},
  "encoding": {"x": {"datum": -51.4, "type": "quantitative", "scale": {"domain": [-51.4, 275.6], "nice": false, "zero": false, "padding": 0}},
   "y": {"datum": 1.36166, "type": "quantitative", "scale": {"domain": [1.32437, 1.36215], "nice": false, "zero": false, "padding": 0}}}}
]},
{"layer": [
 {"data": {"values": [{}]}, "mark": {"type": "rule", "stroke": "#a0a0a0", "strokeWidth": 1.5},
  "encoding": {"y": {"datum": 1692, "type": "quantitative", "scale": {"domain": [-14.3, 9877.7], "nice": false, "zero": false, "padding": 0}}}},
 {"data": {"values": [{}]}, "mark": {"type": "rule", "stroke": "#505050", "strokeWidth": 1},
  "encoding": {"y": {"datum": 1656, "type": "quantitative", "scale": {"domain": [-14.3, 9877.7], "nice": false, "zero": false, "padding": 0}}}},
 {"data": {"name": "bars"}, "mark": {"type": "bar", "orient": "vertical", "width": 2.6, "clip": true},
  "encoding": {"x": {"field": "t", "type": "quantitative", "scale": {"domain": [-51.4, 275.6], "nice": false, "zero": false, "padding": 0}},
   "y": {"field": "v", "type": "quantitative", "scale": {"domain": [-14.3, 9877.7], "nice": false, "zero": false, "padding": 0},
    "axis": {"orient": "right", "values": [0, 1577], "format": "d", "domain": false, "ticks": false, "labelPadding": 5, "title": null, "labelOverlap": false,
     "labelBaseline": {"condition": {"test": "datum.value == 0", "value": "bottom"}, "value": "middle"}}},
   "y2": {"datum": 0},
   "color": {"field": "vc", "type": "nominal", "scale": {"domain": ["g", "r"], "range": ["#1c8c1c", "#e31c1c"]}, "legend": null}}},
 {"data": {"values": [{}]}, "mark": {"type": "rect", "fill": "#8c8c8c", "opacity": 0.82},
  "encoding": {"x": {"datum": -51.4, "type": "quantitative", "scale": {"domain": [-51.4, 275.6], "nice": false, "zero": false, "padding": 0}}, "x2": {"datum": -6.6},
   "y": {"datum": 301, "type": "quantitative", "scale": {"domain": [-14.3, 9877.7], "nice": false, "zero": false, "padding": 0}}, "y2": {"datum": -315}}},
 {"data": {"values": [{}]}, "mark": {"type": "text", "align": "center", "baseline": "middle", "fontSize": 30, "fill": "#f2f2f2", "text": "✻"},
  "encoding": {"x": {"datum": -45.6, "type": "quantitative", "scale": {"domain": [-51.4, 275.6], "nice": false, "zero": false, "padding": 0}},
   "y": {"datum": 40, "type": "quantitative", "scale": {"domain": [-14.3, 9877.7], "nice": false, "zero": false, "padding": 0}}}},
 {"data": {"values": [{}]}, "mark": {"type": "text", "align": "left", "baseline": "middle", "fontSize": 28, "fill": "#ffffff", "text": "instaforex"},
  "encoding": {"x": {"datum": -39.5, "type": "quantitative", "scale": {"domain": [-51.4, 275.6], "nice": false, "zero": false, "padding": 0}},
   "y": {"datum": 86, "type": "quantitative", "scale": {"domain": [-14.3, 9877.7], "nice": false, "zero": false, "padding": 0}}}},
 {"data": {"values": [{}]}, "mark": {"type": "text", "align": "left", "baseline": "middle", "fontSize": 9.5, "fill": "#eeeeee", "text": "Instant Forex Trading"},
  "encoding": {"x": {"datum": -39.5, "type": "quantitative", "scale": {"domain": [-51.4, 275.6], "nice": false, "zero": false, "padding": 0}},
   "y": {"datum": -200, "type": "quantitative", "scale": {"domain": [-14.3, 9877.7], "nice": false, "zero": false, "padding": 0}}}}
]}
]
}
